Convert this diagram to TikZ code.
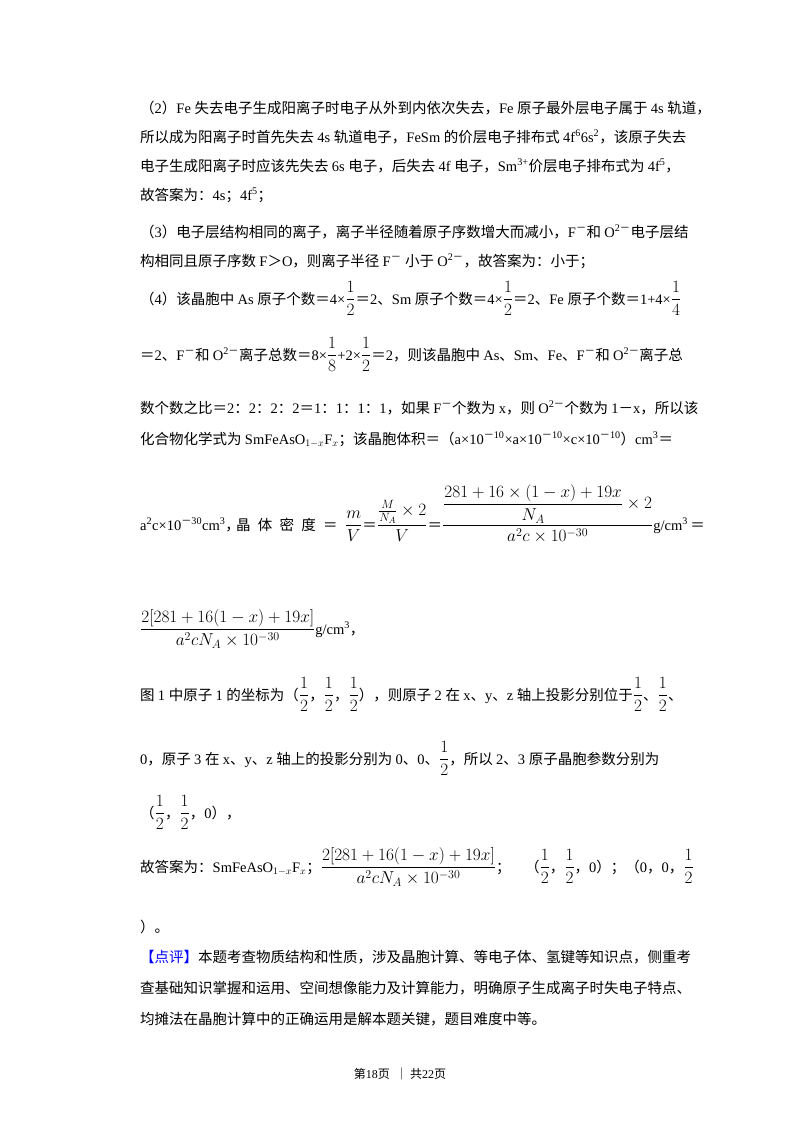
\documentclass[tikz,border=0pt]{standalone}
\usepackage{amsmath}
\usepackage{fontspec}
\setmainfont{Liberation Serif}
\newfontfamily\latinf{Liberation Serif}
\newfontfamily\cjkf{Noto Sans CJK SC}
\XeTeXinterchartokenstate=1
\newXeTeXintercharclass\cjkclass
\newcount\cc
\cc="4E00 \loop \XeTeXcharclass\cc=\cjkclass \advance\cc1 \ifnum\cc<"A000 \repeat
\cc="3000 \loop \XeTeXcharclass\cc=\cjkclass \advance\cc1 \ifnum\cc<"3040 \repeat
\cc="FF00 \loop \XeTeXcharclass\cc=\cjkclass \advance\cc1 \ifnum\cc<"FFF0 \repeat
\XeTeXinterchartoks 0 \cjkclass = {\cjkf}
\XeTeXinterchartoks \cjkclass 0 = {\latinf}
\XeTeXinterchartoks 4095 \cjkclass = {\cjkf}
\XeTeXinterchartoks 4095 0 = {\latinf}
\newcommand\bmth[1]{{\fontsize{18pt}{21pt}\selectfont$#1$}}
\newcommand\hf{\bmth{\dfrac{1}{2}}}
\begin{document}
\begin{tikzpicture}[x=1pt,y=-1pt,
 t/.style={anchor=base west,inner sep=0pt,font=\fontsize{14.5pt}{17pt}\selectfont}]
\useasboundingbox[fill=white] (0,0) rectangle (800,1132);
\node[t] (l1) at (140,113) {（2）Fe 失去电子生成阳离子时电子从外到内依次失去，Fe 原子最外层电子属于 4s 轨道，};
\node[t] (l2) at (140,142) {所以成为阳离子时首先失去 4s 轨道电子，FeSm 的价层电子排布式 4f\textsuperscript{6}6s\textsuperscript{2}，该原子失去};
\node[t] (l3) at (140,171) {电子生成阳离子时应该先失去 6s 电子，后失去 4f 电子，Sm\textsuperscript{3+}价层电子排布式为 4f\textsuperscript{5}，};
\node[t] (l4) at (140,200) {故答案为：4s；4f\textsuperscript{5}；};
\node[t] (l5) at (140,237) {（3）电子层结构相同的离子，离子半径随着原子序数增大而减小，F\textsuperscript{－}和 O\textsuperscript{2－}电子层结};
\node[t] (l6) at (140,266) {构相同且原子序数 F＞O，则离子半径 F\textsuperscript{－} 小于 O\textsuperscript{2－}，故答案为：小于；};
\node[t] (l7) at (140,304) {（4）该晶胞中 As 原子个数＝4×\hf＝2、Sm 原子个数＝4×\hf＝2、Fe 原子个数＝1+4×\bmth{\dfrac{1}{4}}};
\node[t] (l8) at (140,360) {＝2、F\textsuperscript{－}和 O\textsuperscript{2－}离子总数＝8×\bmth{\dfrac{1}{8}}+2×\hf＝2，则该晶胞中 As、Sm、Fe、F\textsuperscript{－}和 O\textsuperscript{2－}离子总};
\node[t] (l9) at (140,413) {数个数之比＝2：2：2：2＝1：1：1：1，如果 F\textsuperscript{－}个数为 x，则 O\textsuperscript{2－}个数为 1－x，所以该};
\node[t] (l10) at (140,444) {化合物化学式为 SmFeAsO$_{1-x}$F$_{x}$；该晶胞体积＝（a×10\textsuperscript{－10}×a×10\textsuperscript{－10}×c×10\textsuperscript{－10}）cm\textsuperscript{3}＝};
\node[t] (l11a) at (140,530) {a\textsuperscript{2}c×10\textsuperscript{－30}cm\textsuperscript{3}，};
\node[t] (l11b) at (236,530) {晶\,\,\,体\,\,\,密\,\,\,度\,\,\,＝};
\node[t] (l11c) at (345,530) {\bmth{\dfrac{m}{V}}＝\bmth{\dfrac{\frac{M}{N_A}\times 2}{V}}＝\bmth{\dfrac{\dfrac{281+16\times(1-x)+19x}{N_A}\times 2}{a^2c\times 10^{-30}}}g/cm\textsuperscript{3}\,＝};
\node[t] (l12) at (140,634) {\bmth{\dfrac{2[281+16(1-x)+19x]}{a^2cN_A\times 10^{-30}}}g/cm\textsuperscript{3}，};
\node[t] (l13) at (140,700) {图 1 中原子 1 的坐标为（\hf，\hf，\hf），则原子 2 在 x、y、z 轴上投影分别位于\hf、\hf、};
\node[t] (l14) at (140,764) {0，原子 3 在 x、y、z 轴上的投影分别为 0、0、\hf，所以 2、3 原子晶胞参数分别为};
\node[t] (l15) at (140,818) {（\hf，\hf，0），};
\node[t] (l16) at (140,872) {故答案为：SmFeAsO$_{1-x}$F$_{x}$；\bmth{\dfrac{2[281+16(1-x)+19x]}{a^2cN_A\times 10^{-30}}}；\quad（\hf，\hf，0）；（0，0，\hf};
\node[t] (l17) at (140,932) {）。};
\node[t] (l18) at (140,962) {\textcolor{blue}{【点评】}本题考查物质结构和性质，涉及晶胞计算、等电子体、氢键等知识点，侧重考};
\node[t] (l19) at (140,993) {查基础知识掌握和运用、空间想像能力及计算能力，明确原子生成离子时失电子特点、};
\node[t] (l20) at (140,1024) {均摊法在晶胞计算中的正确运用是解本题关键，题目难度中等。};
\node[anchor=base,inner sep=0pt,font=\fontsize{12pt}{14pt}\selectfont] (ft) at (400,1078) {第18页 \ ｜ 共22页};
\end{tikzpicture}
\end{document}
